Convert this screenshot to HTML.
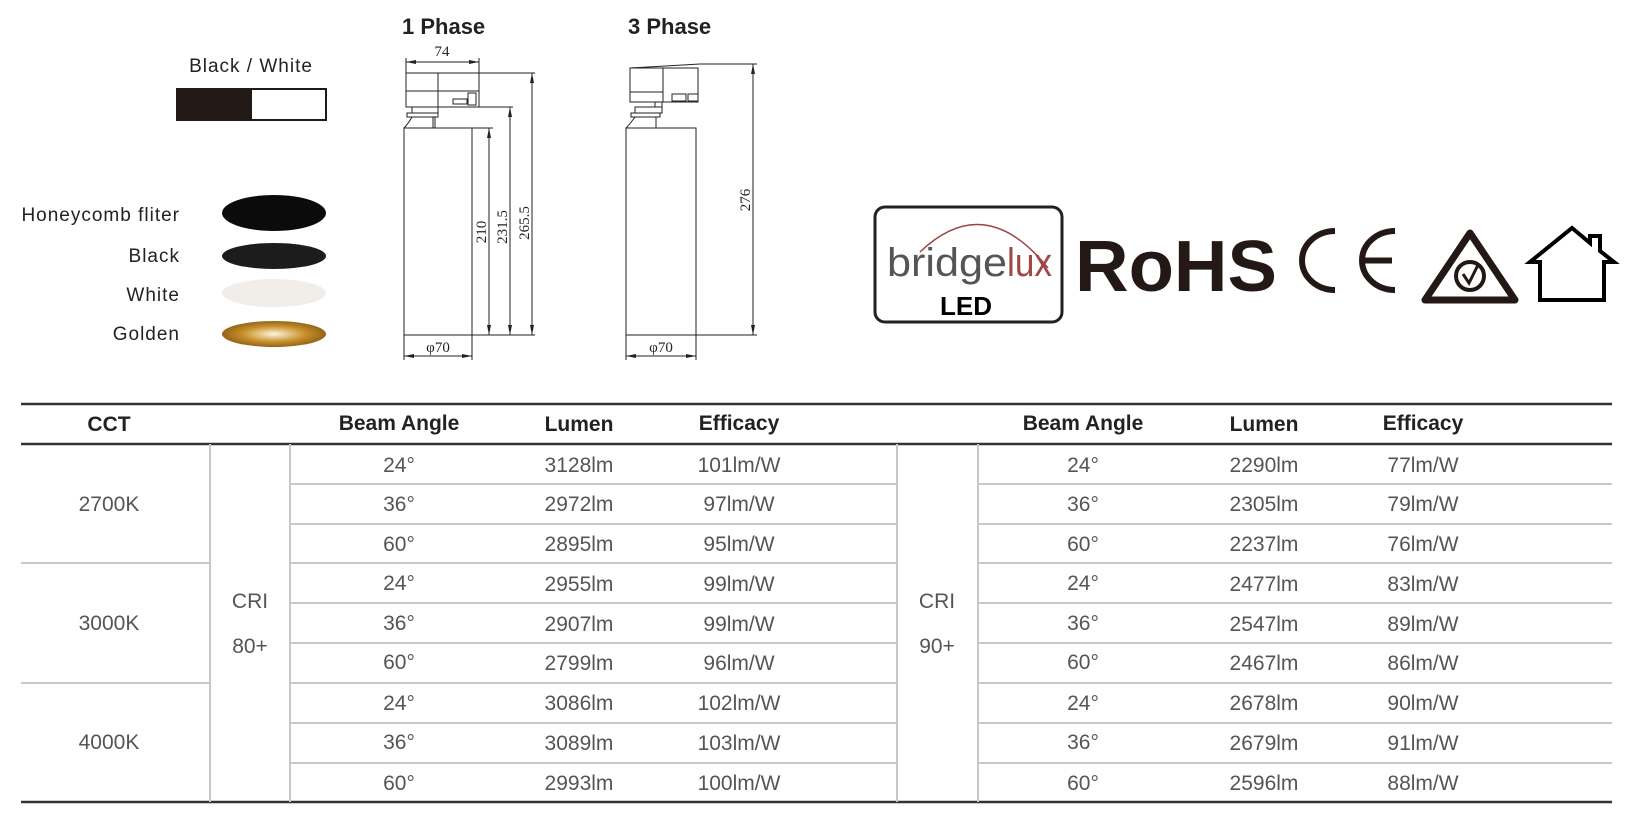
<!DOCTYPE html>
<html><head><meta charset="utf-8"><style>
html,body{margin:0;padding:0;background:#fff;}
svg{display:block;}
.h{font-family:"Liberation Sans",sans-serif;font-weight:bold;fill:#222;font-size:21px;text-anchor:middle;}
.d{font-family:"Liberation Sans",sans-serif;fill:#555;font-size:21px;text-anchor:middle;}
.l{font-family:"Liberation Sans",sans-serif;fill:#222;font-size:19px;letter-spacing:1px;}
.dim{font-family:"Liberation Serif",serif;fill:#222;font-size:15px;text-anchor:middle;}
</style></head><body>
<svg width="1631" height="820" viewBox="0 0 1631 820" xmlns="http://www.w3.org/2000/svg">
<defs>
<marker id="a" viewBox="0 0 10 4" refX="10" refY="2" markerWidth="10" markerHeight="4" orient="auto-start-reverse" markerUnits="userSpaceOnUse"><path d="M0,0 L10,2 L0,4z" fill="#222"/></marker>
<radialGradient id="gold" cx="50%" cy="50%" r="60%"><stop offset="0" stop-color="#fff6dd"/><stop offset="0.5" stop-color="#c8902a"/><stop offset="1" stop-color="#7a5010"/></radialGradient>
</defs>

<!-- left swatches -->
<text class="l" x="251" y="72" text-anchor="middle">Black / White</text>
<rect x="177" y="89" width="149" height="31" fill="#fff" stroke="#221816" stroke-width="2"/>
<rect x="176" y="88" width="76" height="33" fill="#221816"/>
<text class="l" x="180" y="221" text-anchor="end">Honeycomb fliter</text>
<text class="l" x="180" y="262" text-anchor="end">Black</text>
<text class="l" x="180" y="301" text-anchor="end">White</text>
<text class="l" x="180" y="340" text-anchor="end">Golden</text>
<ellipse cx="274" cy="213" rx="52" ry="18" fill="#0b0b0b"/>
<ellipse cx="274" cy="256" rx="52" ry="13" fill="#1c1c1c"/>
<ellipse cx="274" cy="293" rx="52" ry="14" fill="#f1eeea"/>
<ellipse cx="274" cy="334" rx="52" ry="13" fill="url(#gold)"/>

<!-- 1 phase -->
<text x="402" y="34" font-family="Liberation Sans, sans-serif" font-weight="bold" font-size="22" fill="#222">1 Phase</text>
<text x="628" y="34" font-family="Liberation Sans, sans-serif" font-weight="bold" font-size="22" fill="#222">3 Phase</text>
<g stroke="#222" stroke-width="1" fill="none">
<line x1="406" y1="62" x2="479" y2="62" marker-start="url(#a)" marker-end="url(#a)"/>
<line x1="406" y1="58" x2="406" y2="73"/><line x1="479" y1="58" x2="479" y2="73"/>
<rect x="406" y="73" width="73" height="34"/>
<line x1="438" y1="73" x2="438" y2="107"/><line x1="406" y1="91" x2="479" y2="91"/>
<rect x="453" y="99" width="14" height="5"/><rect x="468" y="93" width="8" height="12"/>
<rect x="412" y="107" width="26" height="6"/><rect x="407" y="113" width="31" height="4"/>
<line x1="433" y1="117" x2="433" y2="128"/><line x1="435" y1="117" x2="435" y2="128"/>
<path d="M412,117 Q408,124 404,128"/>
<rect x="404" y="128" width="68" height="207"/>
<line x1="479" y1="73" x2="535" y2="73"/><line x1="479" y1="107" x2="513" y2="107"/>
<line x1="472" y1="128" x2="493" y2="128"/><line x1="472" y1="335" x2="535" y2="335"/>
<line x1="489" y1="128" x2="489" y2="335" marker-start="url(#a)" marker-end="url(#a)"/>
<line x1="510" y1="107" x2="510" y2="335" marker-start="url(#a)" marker-end="url(#a)"/>
<line x1="532" y1="73" x2="532" y2="335" marker-start="url(#a)" marker-end="url(#a)"/>
<line x1="404" y1="335" x2="404" y2="360"/><line x1="472" y1="335" x2="472" y2="360"/>
<line x1="404" y1="356" x2="472" y2="356" marker-start="url(#a)" marker-end="url(#a)"/>
</g>
<text class="dim" transform="translate(442,56)">74</text>
<text class="dim" transform="translate(486,232) rotate(-90)">210</text>
<text class="dim" transform="translate(507,227) rotate(-90)">231.5</text>
<text class="dim" transform="translate(529,223) rotate(-90)">265.5</text>
<text class="dim" x="438" y="352">φ70</text>

<!-- 3 phase -->
<g stroke="#222" stroke-width="1" fill="none">
<rect x="630" y="68" width="68" height="34"/>
<line x1="630" y1="68" x2="700" y2="64"/>
<line x1="663" y1="68" x2="663" y2="102"/><line x1="630" y1="92" x2="663" y2="92"/>
<rect x="672" y="94" width="14" height="7"/><rect x="688" y="94" width="10" height="7"/>
<rect x="655" y="102" width="7" height="5"/>
<rect x="635" y="107" width="27" height="6"/><rect x="631" y="113" width="29" height="4"/>
<line x1="656" y1="117" x2="656" y2="128"/>
<path d="M635,117 Q630,124 626,128"/>
<rect x="626" y="128" width="70" height="207"/>
<line x1="700" y1="64" x2="757" y2="64"/><line x1="696" y1="335" x2="757" y2="335"/>
<line x1="753" y1="64" x2="753" y2="335" marker-start="url(#a)" marker-end="url(#a)"/>
<line x1="626" y1="335" x2="626" y2="360"/><line x1="696" y1="335" x2="696" y2="360"/>
<line x1="626" y1="356" x2="696" y2="356" marker-start="url(#a)" marker-end="url(#a)"/>
</g>
<text class="dim" transform="translate(750,200) rotate(-90)">276</text>
<text class="dim" x="661" y="352">φ70</text>

<!-- logos -->
<rect x="875" y="207" width="187" height="115" rx="10" fill="#fff" stroke="#222" stroke-width="3"/>
<path d="M920,252 Q985,190 1048,268" stroke="#a04040" stroke-width="1.5" fill="none"/>
<text x="887" y="276" font-family="Liberation Sans, sans-serif" font-size="40" fill="#555" textLength="120" lengthAdjust="spacingAndGlyphs">bridge</text>
<text x="1007" y="276" font-family="Liberation Sans, sans-serif" font-size="40" fill="#a04848" textLength="45" lengthAdjust="spacingAndGlyphs">lux</text>
<text x="966" y="315" font-family="Liberation Sans, sans-serif" font-weight="bold" font-size="26" fill="#000" text-anchor="middle">LED</text>
<text x="1075" y="291" font-family="Liberation Sans, sans-serif" font-weight="bold" font-size="72" fill="#231815" textLength="202" lengthAdjust="spacingAndGlyphs">RoHS</text>
<path d="M1335,231 A33,29.5 0 0 0 1335,290" stroke="#231815" stroke-width="6" fill="none"/>
<path d="M1395,231 A33,29.5 0 0 0 1395,290 M1362,260.5 L1392,260.5" stroke="#231815" stroke-width="6" fill="none"/>
<path d="M1470,233 L1515,300 L1425,300 Z" stroke="#231815" stroke-width="7" fill="none" stroke-linejoin="round"/>
<circle cx="1470" cy="276" r="14" stroke="#231815" stroke-width="4" fill="none"/>
<path d="M1463,274 L1469,283 L1478,265" stroke="#231815" stroke-width="3" fill="none"/>
<path d="M1540,300 L1540,262 L1530,262 L1572,228 L1590,243 L1590,236 L1600,236 L1600,251 L1614,262 L1604,262 L1604,300 Z" stroke="#000" stroke-width="4" fill="none" stroke-linejoin="miter"/>

<!-- table lines -->
<g fill="none">
<line x1="21" y1="404" x2="1612" y2="404" stroke="#333" stroke-width="2.5"/>
<line x1="21" y1="444" x2="1612" y2="444" stroke="#333" stroke-width="2.5"/>
<line x1="21" y1="802" x2="1612" y2="802" stroke="#333" stroke-width="2.5"/>
<g stroke="#c8c8c8" stroke-width="2">
<line x1="210" y1="444" x2="210" y2="802"/><line x1="290" y1="444" x2="290" y2="802"/>
<line x1="897" y1="444" x2="897" y2="802"/><line x1="978" y1="444" x2="978" y2="802"/>
<line x1="21" y1="563" x2="210" y2="563"/><line x1="21" y1="683" x2="210" y2="683"/>
<path d="M290,484H897M290,524H897M290,563H897M290,603H897M290,643H897M290,683H897M290,723H897M290,763H897"/>
<path d="M978,484H1612M978,524H1612M978,563H1612M978,603H1612M978,643H1612M978,683H1612M978,723H1612M978,763H1612"/>
</g>
</g>
<text class="h" x="109" y="431">CCT</text>
<text class="h" x="399" y="430">Beam Angle</text>
<text class="h" x="579" y="431">Lumen</text>
<text class="h" x="739" y="430">Efficacy</text>
<text class="h" x="1083" y="430">Beam Angle</text>
<text class="h" x="1264" y="431">Lumen</text>
<text class="h" x="1423" y="430">Efficacy</text>

<text class="d" x="109" y="511">2700K</text>
<text class="d" x="109" y="630">3000K</text>
<text class="d" x="109" y="749">4000K</text>
<text class="d" x="250" y="608">CRI</text>
<text class="d" x="250" y="653">80+</text>
<text class="d" x="937" y="608">CRI</text>
<text class="d" x="937" y="653">90+</text>

<g class="d">
<text class="d" x="399" y="472">24°</text><text class="d" x="579" y="472">3128lm</text><text class="d" x="739" y="472">101lm/W</text>
<text class="d" x="399" y="511">36°</text><text class="d" x="579" y="511">2972lm</text><text class="d" x="739" y="511">97lm/W</text>
<text class="d" x="399" y="551">60°</text><text class="d" x="579" y="551">2895lm</text><text class="d" x="739" y="551">95lm/W</text>
<text class="d" x="399" y="590">24°</text><text class="d" x="579" y="591">2955lm</text><text class="d" x="739" y="591">99lm/W</text>
<text class="d" x="399" y="630">36°</text><text class="d" x="579" y="631">2907lm</text><text class="d" x="739" y="631">99lm/W</text>
<text class="d" x="399" y="669">60°</text><text class="d" x="579" y="670">2799lm</text><text class="d" x="739" y="670">96lm/W</text>
<text class="d" x="399" y="710">24°</text><text class="d" x="579" y="710">3086lm</text><text class="d" x="739" y="710">102lm/W</text>
<text class="d" x="399" y="749">36°</text><text class="d" x="579" y="750">3089lm</text><text class="d" x="739" y="750">103lm/W</text>
<text class="d" x="399" y="790">60°</text><text class="d" x="579" y="790">2993lm</text><text class="d" x="739" y="790">100lm/W</text>

<text class="d" x="1083" y="472">24°</text><text class="d" x="1264" y="472">2290lm</text><text class="d" x="1423" y="472">77lm/W</text>
<text class="d" x="1083" y="511">36°</text><text class="d" x="1264" y="511">2305lm</text><text class="d" x="1423" y="511">79lm/W</text>
<text class="d" x="1083" y="551">60°</text><text class="d" x="1264" y="551">2237lm</text><text class="d" x="1423" y="551">76lm/W</text>
<text class="d" x="1083" y="590">24°</text><text class="d" x="1264" y="591">2477lm</text><text class="d" x="1423" y="591">83lm/W</text>
<text class="d" x="1083" y="630">36°</text><text class="d" x="1264" y="631">2547lm</text><text class="d" x="1423" y="631">89lm/W</text>
<text class="d" x="1083" y="669">60°</text><text class="d" x="1264" y="670">2467lm</text><text class="d" x="1423" y="670">86lm/W</text>
<text class="d" x="1083" y="710">24°</text><text class="d" x="1264" y="710">2678lm</text><text class="d" x="1423" y="710">90lm/W</text>
<text class="d" x="1083" y="749">36°</text><text class="d" x="1264" y="750">2679lm</text><text class="d" x="1423" y="750">91lm/W</text>
<text class="d" x="1083" y="790">60°</text><text class="d" x="1264" y="790">2596lm</text><text class="d" x="1423" y="790">88lm/W</text>
</g>
</svg>
</body></html>
